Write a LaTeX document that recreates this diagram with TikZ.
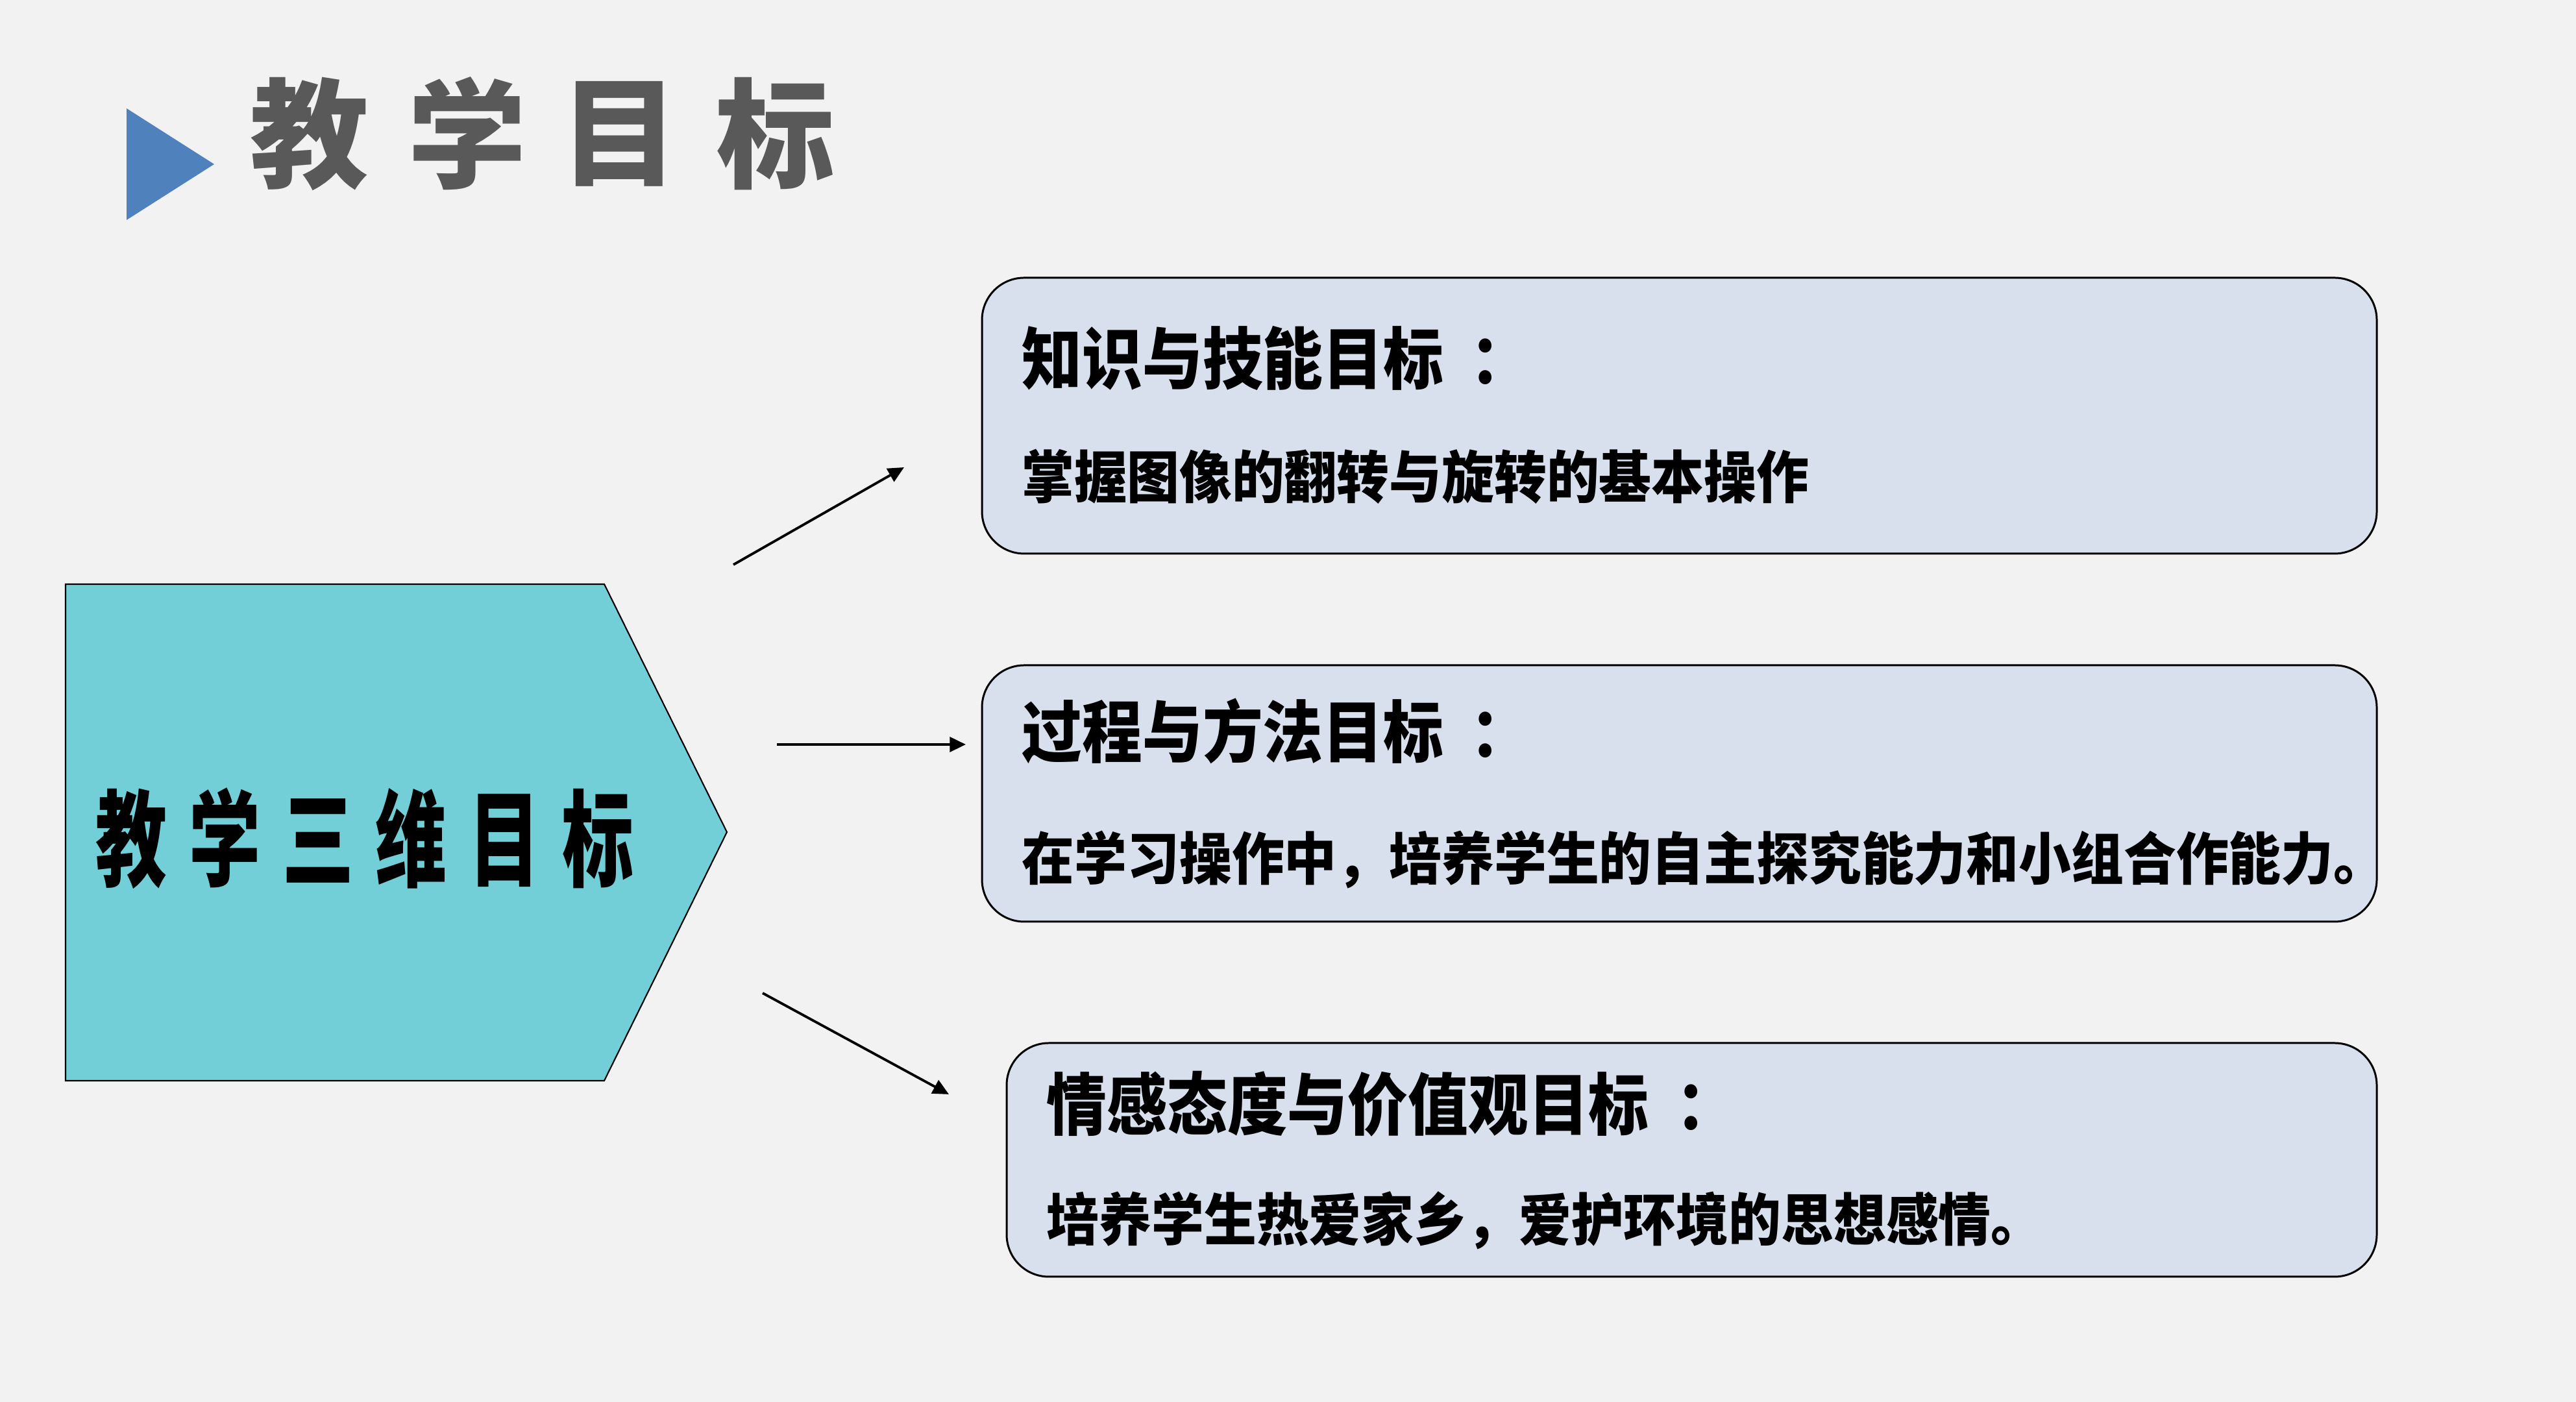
\documentclass[tikz,border=0pt]{standalone}
\usepackage{graphicx}
\usepackage{fontspec}
\newfontfamily\cjk{Noto Sans CJK SC}
\usepackage{tikz}
\usetikzlibrary{calc,arrows.meta,shapes}
\definecolor{mybg}{RGB}{242, 242, 242}
\definecolor{mycyan}{RGB}{114, 207, 216}
\definecolor{myboxfill}{RGB}{215, 224, 236}
\definecolor{mytri}{RGB}{79, 129, 189}
\definecolor{mygray}{RGB}{89, 89, 89}
\tikzset{>={Triangle[length=7pt,width=6.5pt]}}
\tikzset{
  goalbox/.style = {draw=black, line width=0.85pt, fill=myboxfill, rounded corners=0.65cm},
  headtext/.style = {anchor=west, inner sep=0pt, font=\cjk\bfseries\fontsize{26.4pt}{30pt}\selectfont},
  bodytext/.style = {anchor=west, inner sep=0pt, font=\cjk\bfseries\fontsize{23pt}{26pt}\selectfont},
  linkarrow/.style = {line width=1.1pt, ->}
}

\begin{document}
\begin{tikzpicture}
\useasboundingbox (0,0) rectangle (39.69,21.6);
\fill[mybg] (0,0) rectangle (39.69,21.6);
% title
\fill[mytri] (1.95,19.93) -- (3.30,19.07) -- (1.95,18.21) -- cycle;
\foreach \c / \x / \n in {教/4.77/ta, 学/7.20/tb, 目/9.55/tc, 标/11.95/td}{
\node[inner sep=0pt, text=mygray, font=\cjk\bfseries\fontsize{52pt}{56pt}\selectfont] (\n) at (\x, 19.54) {\c};
}
% left arrow shape
\draw[fill = mycyan, line width=0.6pt] (1.01,12.60) -- (9.31,12.60) -- (11.20,8.78) -- (9.31,4.95) -- (1.01,4.95) -- cycle;
\node[inner sep=0pt, font=\cjk\bfseries\fontsize{46pt}{50pt}\selectfont] (main) at (5.62, 8.68)
  {\scalebox{0.68}[1]{教\hspace{0.5cm}学\hspace{0.5cm}三\hspace{0.5cm}维\hspace{0.5cm}目\hspace{0.5cm}标}};
% goal boxes
\draw[goalbox] (15.13,17.32) rectangle (36.62,13.07);
\draw[goalbox] (15.13,11.35) rectangle (36.62,7.40);
\draw[goalbox] (15.51,5.53) rectangle (36.62,1.93);
\node[headtext] (headA) at (15.74,16.08) {\scalebox{1}[1.12]{知识与技能目标\hspace{0.45em}：}};
\node[bodytext] (bodyA) at (15.74,14.26) {\scalebox{1}[1.08]{掌握图像的翻转与旋转的基本操作}};
\node[headtext] (headB) at (15.74,10.34) {\scalebox{1}[1.12]{过程与方法目标\hspace{0.45em}：}};
\node[bodytext] (bodyB) at (15.74,8.36) {\scalebox{1}[1.08]{在学习操作中，培养学生的自主探究能力和小组合作能力。}};
\node[headtext] (headC) at (16.12,4.59) {\scalebox{1}[1.12]{情感态度与价值观目标\hspace{0.45em}：}};
\node[bodytext] (bodyC) at (16.12,2.80) {\scalebox{1}[1.08]{培养学生热爱家乡，爱护环境的思想感情。}};
% arrows
\coordinate (sA) at (11.30,12.90); \coordinate (eA) at (13.93,14.40);
\coordinate (sB) at (11.97,10.13); \coordinate (eB) at (14.88,10.13);
\coordinate (sC) at (11.75,6.30); \coordinate (eC) at (14.62,4.74);
\draw[linkarrow] (sA) -- (eA);
\draw[linkarrow] (sB) -- (eB);
\draw[linkarrow] (sC) -- (eC);
\end{tikzpicture}
\end{document}
